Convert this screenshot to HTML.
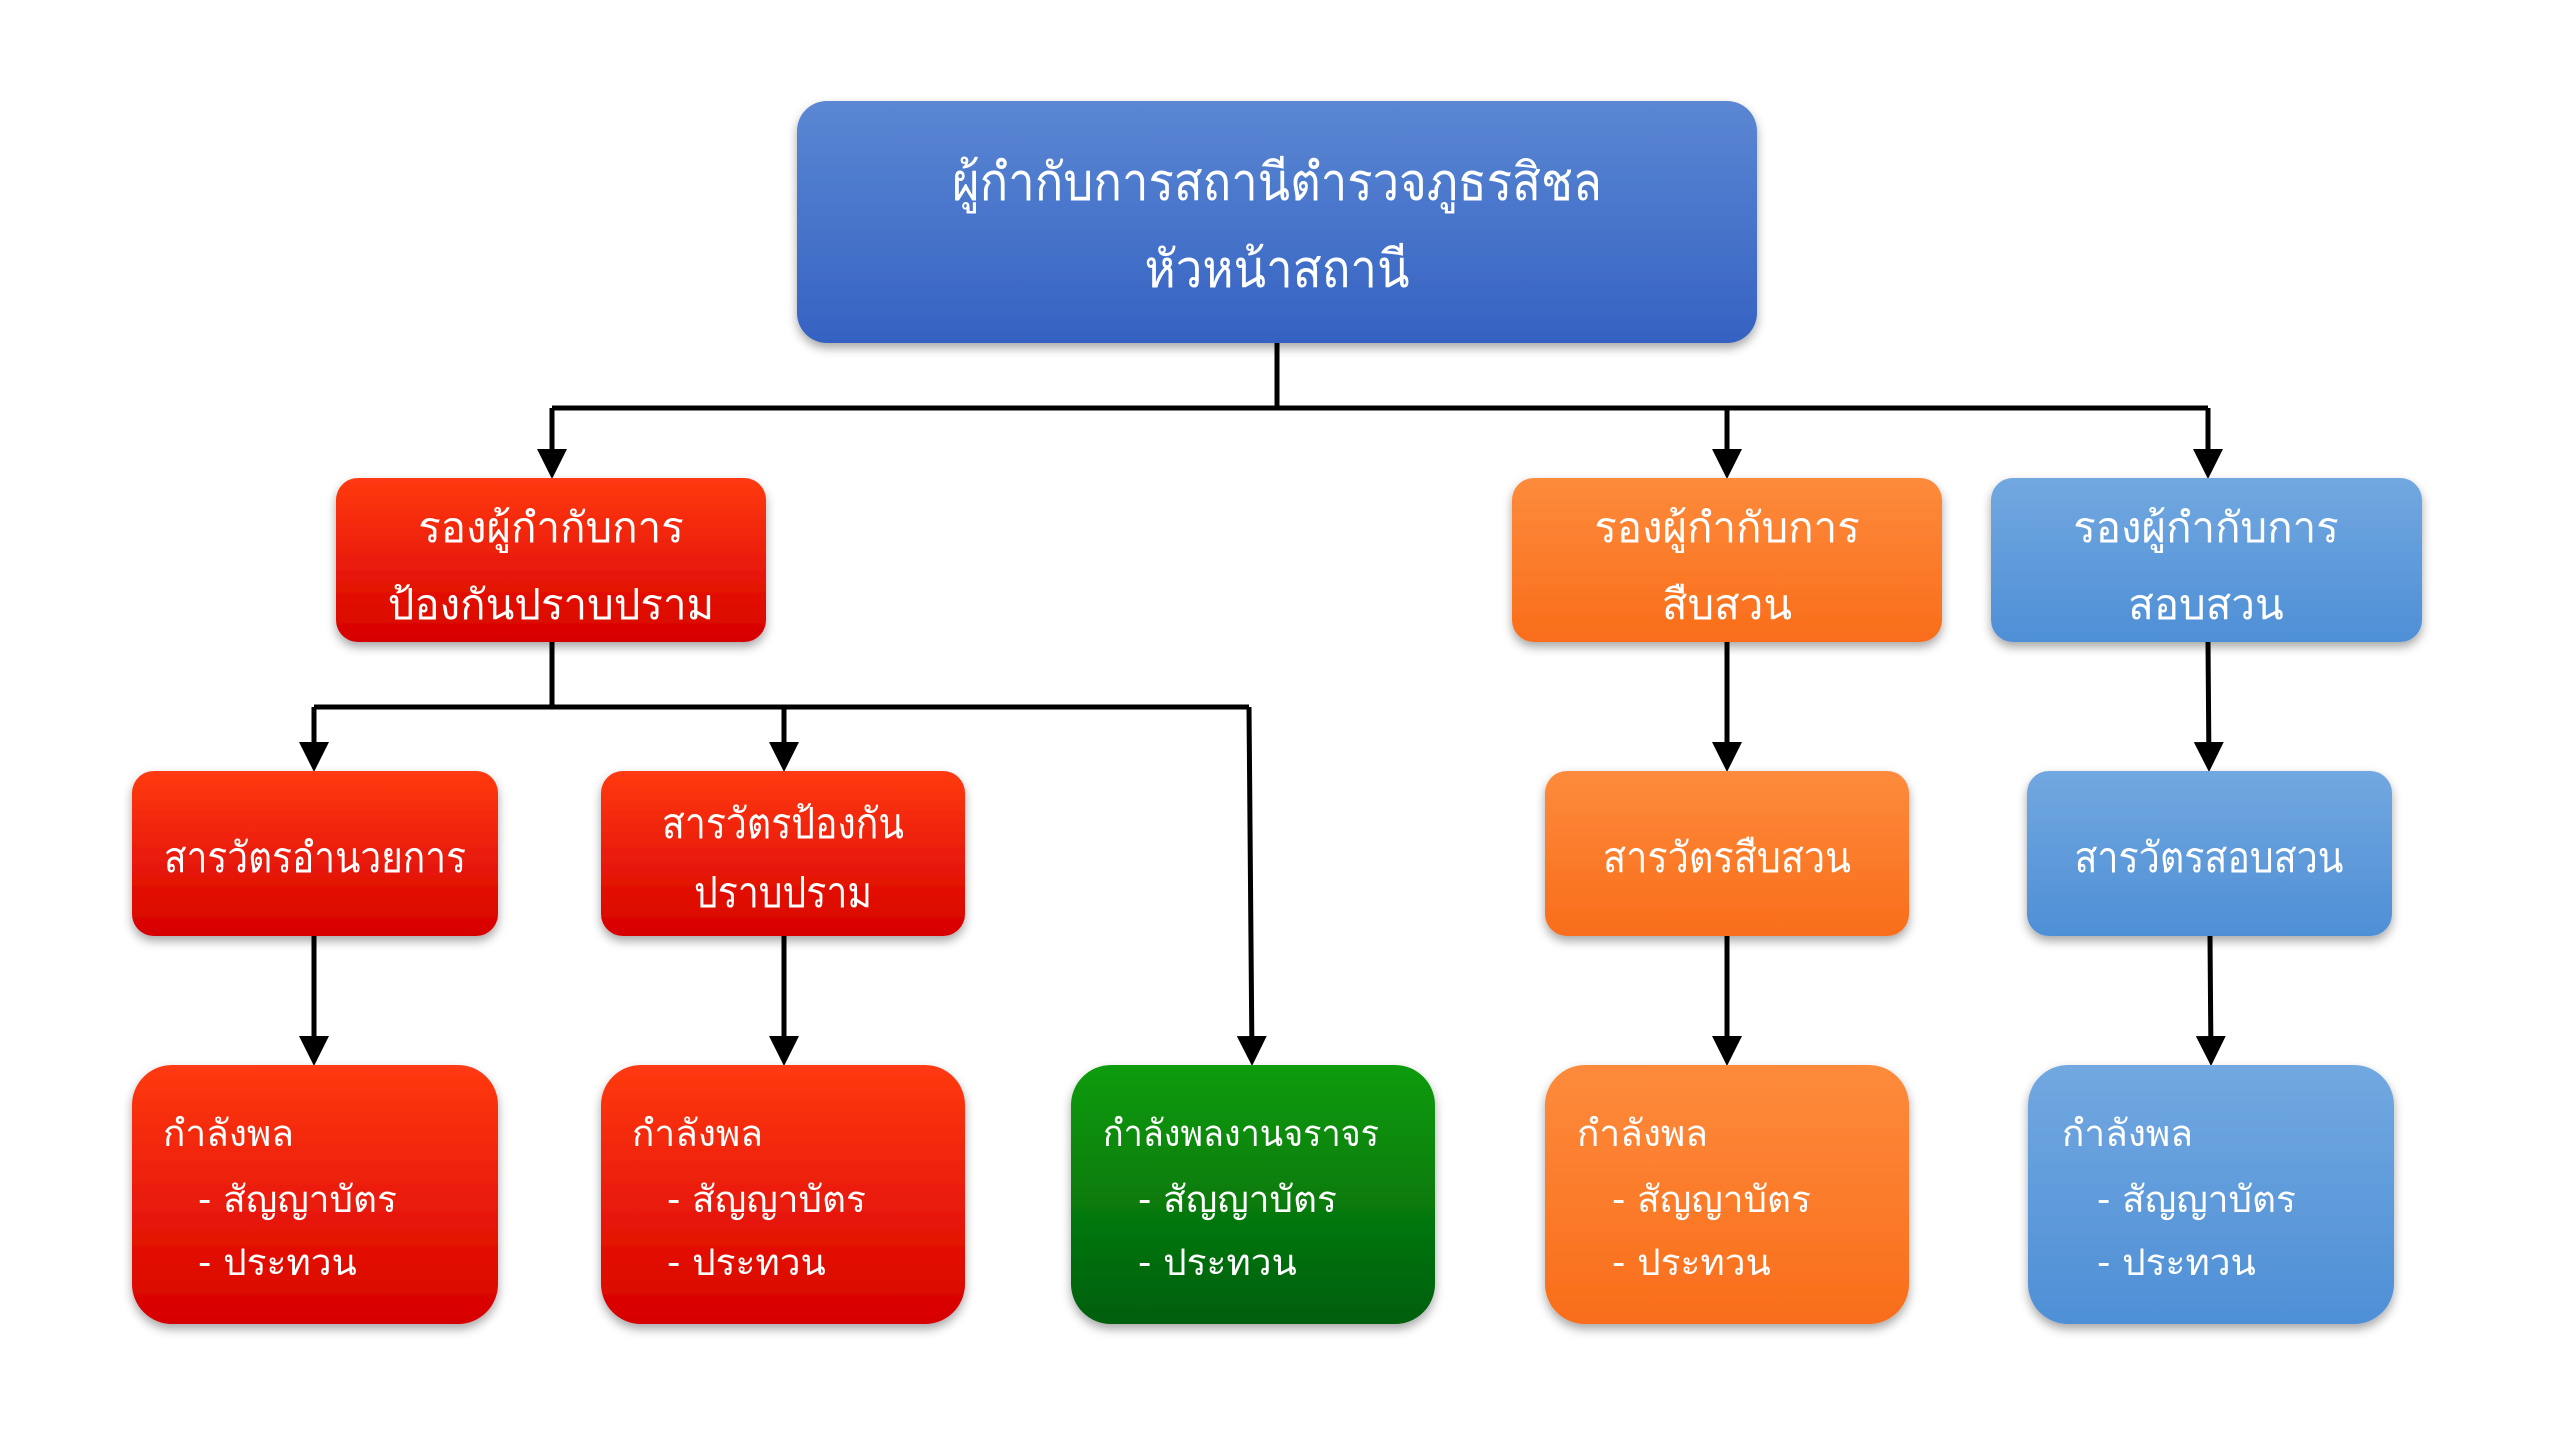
<!DOCTYPE html>
<html><head><meta charset="utf-8"><style>
html,body{margin:0;padding:0;background:#fff;}
svg{display:block;}
text{font-family:"DejaVu Sans","Liberation Sans",sans-serif;fill:#fff;}
</style></head><body>
<svg width="2560" height="1440" viewBox="0 0 2560 1440" xmlns="http://www.w3.org/2000/svg">
<defs>
<linearGradient id="gb" x1="0" y1="0" x2="0" y2="1"><stop offset="0" stop-color="#5b87d3"/><stop offset="1" stop-color="#3562c2"/></linearGradient>
<linearGradient id="gr" x1="0" y1="0" x2="0" y2="1"><stop offset="0" stop-color="#ff3a12"/><stop offset="1" stop-color="#d60000"/></linearGradient>
<linearGradient id="go" x1="0" y1="0" x2="0" y2="1"><stop offset="0" stop-color="#fd8b3c"/><stop offset="1" stop-color="#f96d1a"/></linearGradient>
<linearGradient id="gl" x1="0" y1="0" x2="0" y2="1"><stop offset="0" stop-color="#72a8e0"/><stop offset="1" stop-color="#4e8fd6"/></linearGradient>
<linearGradient id="gg" x1="0" y1="0" x2="0" y2="1"><stop offset="0" stop-color="#0f9c0f"/><stop offset="1" stop-color="#005e0c"/></linearGradient>
<filter id="sh" x="-10%" y="-10%" width="120%" height="130%"><feDropShadow dx="0" dy="5" stdDeviation="5" flood-color="#000" flood-opacity="0.35"/></filter>
<marker id="ar" markerWidth="6" markerHeight="6" refX="5" refY="3" orient="auto" markerUnits="strokeWidth"><path d="M0,0 L6,3 L0,6 z" fill="#000"/></marker>
</defs>
<g stroke="#000" stroke-width="5" fill="none">
<path d="M1277 343 V408"/>
<path d="M552 408 H2208"/>
<path d="M552 408 V474" marker-end="url(#ar)"/>
<path d="M1727 408 V474" marker-end="url(#ar)"/>
<path d="M2208 408 V474" marker-end="url(#ar)"/>
<path d="M552 642 V707"/>
<path d="M314 707 H1249"/>
<path d="M314 707 V767" marker-end="url(#ar)"/>
<path d="M784 707 V767" marker-end="url(#ar)"/>
<path d="M1249 707 L1252 1061" marker-end="url(#ar)"/>
<path d="M1727 642 V767" marker-end="url(#ar)"/>
<path d="M2208 642 L2209 767" marker-end="url(#ar)"/>
<path d="M314 936 V1061" marker-end="url(#ar)"/>
<path d="M784 936 V1061" marker-end="url(#ar)"/>
<path d="M1727 936 V1061" marker-end="url(#ar)"/>
<path d="M2210 936 L2211 1061" marker-end="url(#ar)"/>
</g>
<g filter="url(#sh)">
<rect x="797" y="101" width="960" height="242" rx="30" fill="url(#gb)"/>
<rect x="336" y="478" width="430" height="164" rx="22" fill="url(#gr)"/>
<rect x="1512" y="478" width="430" height="164" rx="22" fill="url(#go)"/>
<rect x="1991" y="478" width="431" height="164" rx="22" fill="url(#gl)"/>
<rect x="132" y="771" width="366" height="165" rx="22" fill="url(#gr)"/>
<rect x="601" y="771" width="364" height="165" rx="22" fill="url(#gr)"/>
<rect x="1545" y="771" width="364" height="165" rx="22" fill="url(#go)"/>
<rect x="2027" y="771" width="365" height="165" rx="22" fill="url(#gl)"/>
<rect x="132" y="1065" width="366" height="259" rx="40" fill="url(#gr)"/>
<rect x="601" y="1065" width="364" height="259" rx="40" fill="url(#gr)"/>
<rect x="1071" y="1065" width="364" height="259" rx="40" fill="url(#gg)"/>
<rect x="1545" y="1065" width="364" height="259" rx="40" fill="url(#go)"/>
<rect x="2028" y="1065" width="366" height="259" rx="40" fill="url(#gl)"/>
</g>
<g text-anchor="middle" font-size="52">
<text x="1277" y="200" textLength="650" lengthAdjust="spacingAndGlyphs">ผู้กำกับการสถานีตำรวจภูธรสิชล</text>
<text x="1277" y="287" textLength="265" lengthAdjust="spacingAndGlyphs">หัวหน้าสถานี</text>
</g>
<g text-anchor="middle" font-size="42">
<text x="551" y="542">รองผู้กำกับการ</text>
<text x="551" y="619">ป้องกันปราบปราม</text>
<text x="1727" y="542">รองผู้กำกับการ</text>
<text x="1727" y="619">สืบสวน</text>
<text x="2206" y="542">รองผู้กำกับการ</text>
<text x="2206" y="619">สอบสวน</text>
<text x="315" y="872" textLength="302" lengthAdjust="spacingAndGlyphs">สารวัตรอำนวยการ</text>
<text x="783" y="838" textLength="242" lengthAdjust="spacingAndGlyphs">สารวัตรป้องกัน</text>
<text x="783" y="907" textLength="178" lengthAdjust="spacingAndGlyphs">ปราบปราม</text>
<text x="1727" y="872" textLength="248" lengthAdjust="spacingAndGlyphs">สารวัตรสืบสวน</text>
<text x="2209" y="872" textLength="269" lengthAdjust="spacingAndGlyphs">สารวัตรสอบสวน</text>
</g>
<g font-size="37">
<text x="163" y="1146">กำลังพล</text><text x="198" y="1212">- สัญญาบัตร</text><text x="198" y="1275">- ประทวน</text>
<text x="632" y="1146">กำลังพล</text><text x="667" y="1212">- สัญญาบัตร</text><text x="667" y="1275">- ประทวน</text>
<text x="1103" y="1146" textLength="276" lengthAdjust="spacingAndGlyphs">กำลังพลงานจราจร</text><text x="1138" y="1212">- สัญญาบัตร</text><text x="1138" y="1275">- ประทวน</text>
<text x="1577" y="1146">กำลังพล</text><text x="1612" y="1212">- สัญญาบัตร</text><text x="1612" y="1275">- ประทวน</text>
<text x="2062" y="1146">กำลังพล</text><text x="2097" y="1212">- สัญญาบัตร</text><text x="2097" y="1275">- ประทวน</text>
</g>
</svg>
</body></html>
